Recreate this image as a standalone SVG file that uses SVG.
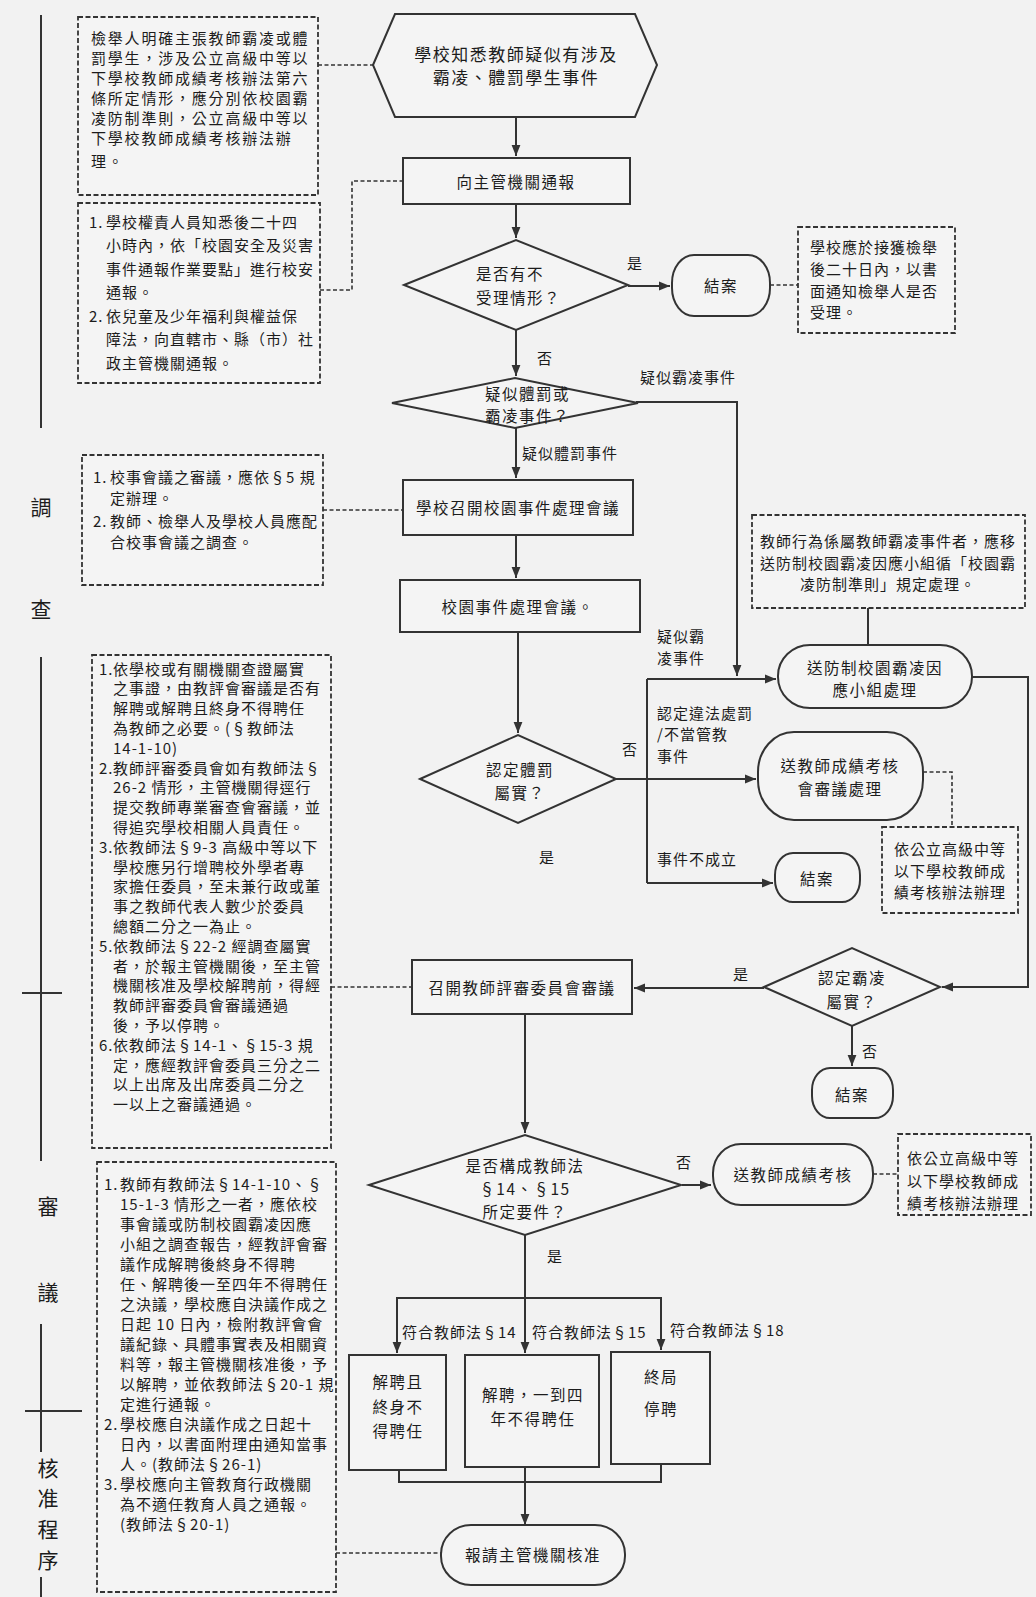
<svg xmlns="http://www.w3.org/2000/svg" width="1036" height="1597" viewBox="0 0 1036 1597">
<defs>
<marker id="ah" viewBox="0 0 10 10" refX="10" refY="5" markerWidth="11" markerHeight="11" markerUnits="userSpaceOnUse" orient="auto"><path d="M0,1 L10,5 L0,9 Z" fill="#333"/></marker>
</defs>
<style>
text{font-family:"Noto Sans CJK TC","Noto Sans CJK SC",sans-serif;fill:#1c1c1c;dominant-baseline:central;font-size:15px;letter-spacing:1px}
.m{text-anchor:middle}
.n{font-size:15.5px;letter-spacing:1.5px}
.big{font-size:17px;letter-spacing:1.5px}
.wa{letter-spacing:1.8px}
.side{font-size:21px;text-anchor:middle;letter-spacing:0}
.shape{fill:#f4f4f4;stroke:#333;stroke-width:2}
.note{fill:#f4f4f4;stroke:#333;stroke-width:1.8;stroke-dasharray:5 2.5}
.ln{fill:none;stroke:#333;stroke-width:2}
.dl{fill:none;stroke:#333;stroke-width:1.6;stroke-dasharray:4 2.5}
.ar{marker-end:url(#ah)}
</style>
<rect width="1036" height="1597" fill="#f2f2f2"/>

<g id="timeline">
<path class="ln" d="M41,15 V428 M41,657 V1161 M22,993 H62 M41,1324 V1452 M25,1411 H82 M41,1577 V1597"/>
<text class="side" x="41" y="506">調</text>
<text class="side" x="41" y="608">查</text>
<text class="side" x="48" y="1205">審</text>
<text class="side" x="48" y="1291">議</text>
<text class="side" x="48" y="1467">核</text>
<text class="side" x="48" y="1497">准</text>
<text class="side" x="48" y="1528">程</text>
<text class="side" x="48" y="1559">序</text>
</g>

<g id="connectors">
<path class="dl" d="M318,65 H373"/>
<path class="ln ar" d="M516,117 V156"/>
<path class="dl" d="M320,290 H352 V181 H403"/>
<path class="ln ar" d="M516,204 V238"/>
<path class="ln ar" d="M628,286 H670"/>
<path class="dl" d="M770,285 H798"/>
<path class="ln ar" d="M516,330 V376"/>
<path class="ln ar" d="M636,402 H737 V676"/>
<path class="ln ar" d="M516,428 V478"/>
<path class="dl" d="M323,510 H403"/>
<path class="ln ar" d="M516,535 V578"/>
<path class="ln ar" d="M518,632 V733"/>
<path class="ln ar" d="M616,779 H756"/>
<path class="ln" d="M647,679 V883"/>
<path class="ln ar" d="M647,679 H776"/>
<path class="ln ar" d="M647,883 H773"/>
<path class="ln" d="M868,608 V645"/>
<path class="ln ar" d="M972,677 H1028 V987 H942"/>
<path class="dl" d="M923,772 H952 V827"/>
<path class="ln ar" d="M764,988 H634"/>
<path class="ln ar" d="M852,1026 V1066"/>
<path class="dl" d="M331,987 H412"/>
<path class="ln ar" d="M525,1014 V1133"/>
<path class="ln ar" d="M682,1185 H711"/>
<path class="dl" d="M873,1174 H898"/>
<path class="ln ar" d="M525,1235 V1353"/>
<path class="ln ar" d="M525,1298 H397 V1353"/>
<path class="ln ar" d="M525,1298 H661 V1350"/>
<path class="ln" d="M399,1470 V1482 H661 V1464"/>
<path class="ln ar" d="M525,1467 V1525"/>
<path class="dl" d="M336,1553 H441"/>
</g>

<g id="labels">
<text x="627" y="262">是</text>
<text x="537" y="357">否</text>
<text x="640" y="376">疑似霸凌事件</text>
<text x="522" y="452">疑似體罰事件</text>
<text x="622" y="748">否</text>
<text x="657" y="635">疑似霸</text>
<text x="657" y="657">凌事件</text>
<text x="657" y="712">認定違法處罰</text>
<text x="657" y="733">/不當管教</text>
<text x="657" y="755">事件</text>
<text x="657" y="858">事件不成立</text>
<text x="539" y="856">是</text>
<text x="733" y="973">是</text>
<text x="862" y="1050">否</text>
<text x="676" y="1161">否</text>
<text x="547" y="1255">是</text>
<text x="402" y="1331">符合教師法§14</text>
<text x="532" y="1331">符合教師法§15</text>
<text x="670" y="1329">符合教師法§18</text>
</g>

<g id="noteA">
<rect class="note" x="78" y="17" width="240" height="178"/>
<text class="wa" x="91" y="37">檢舉人明確主張教師霸凌或體</text>
<text class="wa" x="91" y="57">罰學生，涉及公立高級中等以</text>
<text class="wa" x="91" y="77">下學校教師成績考核辦法第六</text>
<text class="wa" x="91" y="97">條所定情形，應分別依校園霸</text>
<text class="wa" x="91" y="117">凌防制準則，公立高級中等以</text>
<text class="wa" x="91" y="137">下學校教師成績考核辦法辦</text>
<text class="wa" x="91" y="160">理。</text>
</g>

<g id="noteB">
<rect class="note" x="78" y="203" width="242" height="180"/>
<text x="89" y="221">1.</text>
<text x="106" y="221">學校權責人員知悉後二十四</text>
<text x="106" y="244.5">小時內，依「校園安全及災害</text>
<text x="106" y="268">事件通報作業要點」進行校安</text>
<text x="106" y="291.5">通報。</text>
<text x="89" y="315">2.</text>
<text x="106" y="315">依兒童及少年福利與權益保</text>
<text x="106" y="338.5">障法，向直轄市、縣（市）社</text>
<text x="106" y="362">政主管機關通報。</text>
</g>

<g id="start">
<polygon class="shape" points="373,65 395,14 635,14 657,65 635,117 395,117"/>
<text class="big m" x="516" y="53">學校知悉教師疑似有涉及</text>
<text class="big m" x="516" y="76">霸凌、體罰學生事件</text>
</g>

<g id="report">
<rect class="shape" x="403" y="158" width="227" height="46"/>
<text class="n m" x="516" y="181">向主管機關通報</text>
</g>

<g id="d1">
<polygon class="shape" points="404,285 516,240 628,285 516,330"/>
<text class="n" x="476" y="273">是否有不</text>
<text class="n" x="476" y="297">受理情形？</text>
</g>

<g id="end1">
<rect class="shape" x="672" y="255" width="98" height="61" rx="22" ry="28"/>
<text class="n m" x="721" y="285">結案</text>
</g>

<g id="noteR1">
<rect class="note" x="798" y="227" width="157" height="106"/>
<text x="810" y="246">學校應於接獲檢舉</text>
<text x="810" y="268">後二十日內，以書</text>
<text x="810" y="290">面通知檢舉人是否</text>
<text x="810" y="311">受理。</text>
</g>

<g id="d2">
<polygon class="shape" points="392,403 515,378 638,403 515,428"/>
<text class="n" x="485" y="393">疑似體罰或</text>
<text class="n" x="485" y="415">霸凌事件？</text>
</g>

<g id="meeting1">
<rect class="shape" x="403" y="480" width="230" height="55"/>
<text class="n m" x="518" y="507">學校召開校園事件處理會議</text>
</g>

<g id="noteC">
<rect class="note" x="82" y="455" width="241" height="130"/>
<text x="93" y="476">1.</text>
<text x="110" y="476">校事會議之審議，應依§5 規</text>
<text x="110" y="497">定辦理。</text>
<text x="93" y="520">2.</text>
<text x="110" y="520">教師、檢舉人及學校人員應配</text>
<text x="110" y="541">合校事會議之調查。</text>
</g>

<g id="meeting2">
<rect class="shape" x="400" y="580" width="240" height="52"/>
<text class="n m" x="518" y="606">校園事件處理會議。</text>
</g>

<g id="d3">
<polygon class="shape" points="420,779 518,735 616,779 518,823"/>
<text class="n m" x="520" y="769">認定體罰</text>
<text class="n m" x="520" y="792">屬實？</text>
</g>

<g id="noteR2">
<rect class="note" x="752" y="515" width="273" height="93"/>
<text x="760" y="540">教師行為係屬教師霸凌事件者，應移</text>
<text x="760" y="562">送防制校園霸凌因應小組循「校園霸</text>
<text class="m" x="888" y="583">凌防制準則」規定處理。</text>
</g>

<g id="bullyGroup">
<rect class="shape" x="778" y="645" width="194" height="63" rx="32" ry="31"/>
<text class="n m" x="875" y="667">送防制校園霸凌因</text>
<text class="n m" x="875" y="689">應小組處理</text>
</g>

<g id="perfReview">
<rect class="shape" x="758" y="732" width="165" height="88" rx="36" ry="40"/>
<text class="n m" x="840" y="765">送教師成績考核</text>
<text class="n m" x="840" y="788">會審議處理</text>
</g>

<g id="noteR3">
<rect class="note" x="882" y="827" width="136" height="86"/>
<text x="894" y="848">依公立高級中等</text>
<text x="894" y="870">以下學校教師成</text>
<text x="894" y="891">績考核辦法辦理</text>
</g>

<g id="end2">
<rect class="shape" x="775" y="853" width="85" height="49" rx="18" ry="22"/>
<text class="n m" x="817" y="878">結案</text>
</g>

<g id="d4">
<polygon class="shape" points="764,987 852,948 940,987 852,1026"/>
<text class="n m" x="852" y="977">認定霸凌</text>
<text class="n m" x="852" y="1001">屬實？</text>
</g>

<g id="end3">
<rect class="shape" x="812" y="1068" width="81" height="50" rx="18" ry="22"/>
<text class="n m" x="852" y="1094">結案</text>
</g>

<g id="committee">
<rect class="shape" x="412" y="960" width="220" height="54"/>
<text class="n m" x="522" y="987">召開教師評審委員會審議</text>
</g>

<g id="noteD">
<rect class="note" x="92" y="655" width="239" height="493"/>
<text x="99" y="668">1.</text>
<text x="113" y="668">依學校或有關機關查證屬實</text>
<text x="113" y="687.8">之事證，由教評會審議是否有</text>
<text x="113" y="707.6">解聘或解聘且終身不得聘任</text>
<text x="113" y="727.4">為教師之必要。(§教師法</text>
<text x="113" y="747.2">14-1-10)</text>
<text x="99" y="767">2.</text>
<text x="113" y="767">教師評審委員會如有教師法§</text>
<text x="113" y="786.8">26-2 情形，主管機關得逕行</text>
<text x="113" y="806.6">提交教師專業審查會審議，並</text>
<text x="113" y="826.4">得追究學校相關人員責任。</text>
<text x="99" y="846.2">3.</text>
<text x="113" y="846.2">依教師法§9-3 高級中等以下</text>
<text x="113" y="866">學校應另行增聘校外學者專</text>
<text x="113" y="885.8">家擔任委員，至未兼行政或董</text>
<text x="113" y="905.6">事之教師代表人數少於委員</text>
<text x="113" y="925.4">總額二分之一為止。</text>
<text x="99" y="945.2">5.</text>
<text x="113" y="945.2">依教師法§22-2 經調查屬實</text>
<text x="113" y="965">者，於報主管機關後，至主管</text>
<text x="113" y="984.8">機關核准及學校解聘前，得經</text>
<text x="113" y="1004.6">教師評審委員會審議通過</text>
<text x="113" y="1024.4">後，予以停聘。</text>
<text x="99" y="1044.2">6.</text>
<text x="113" y="1044.2">依教師法§14-1、§15-3 規</text>
<text x="113" y="1064">定，應經教評會委員三分之二</text>
<text x="113" y="1083.8">以上出席及出席委員二分之</text>
<text x="113" y="1103.6">一以上之審議通過。</text>
</g>

<g id="d5">
<polygon class="shape" points="369,1185 525,1135 681,1185 525,1235"/>
<text class="n m" x="525" y="1165">是否構成教師法</text>
<text class="n m" x="525" y="1188">§14、§15</text>
<text class="n m" x="525" y="1211">所定要件？</text>
</g>

<g id="perfReview2">
<rect class="shape" x="713" y="1144" width="160" height="61" rx="28" ry="29"/>
<text class="n m" x="793" y="1174">送教師成績考核</text>
</g>

<g id="noteR4">
<rect class="note" x="898" y="1134" width="133" height="81"/>
<text x="907" y="1157">依公立高級中等</text>
<text x="907" y="1180">以下學校教師成</text>
<text x="907" y="1202">績考核辦法辦理</text>
</g>

<g id="out14">
<rect class="shape" x="349" y="1355" width="97" height="115"/>
<text class="n m" x="398" y="1381">解聘且</text>
<text class="n m" x="398" y="1406">終身不</text>
<text class="n m" x="398" y="1430">得聘任</text>
</g>

<g id="out15">
<rect class="shape" x="465" y="1355" width="134" height="112"/>
<text class="n m" x="533" y="1394">解聘，一到四</text>
<text class="n m" x="533" y="1418">年不得聘任</text>
</g>

<g id="out18">
<rect class="shape" x="611" y="1352" width="99" height="112"/>
<text class="n m" x="661" y="1376">終局</text>
<text class="n m" x="661" y="1408">停聘</text>
</g>

<g id="approve">
<rect class="shape" x="441" y="1525" width="184" height="60" rx="30" ry="29"/>
<text class="n m" x="533" y="1554">報請主管機關核准</text>
</g>

<g id="noteE">
<rect class="note" x="97" y="1162" width="239" height="430"/>
<text x="104" y="1183">1.</text>
<text x="120" y="1183">教師有教師法§14-1-10、§</text>
<text x="120" y="1203">15-1-3 情形之一者，應依校</text>
<text x="120" y="1223">事會議或防制校園霸凌因應</text>
<text x="120" y="1243">小組之調查報告，經教評會審</text>
<text x="120" y="1263">議作成解聘後終身不得聘</text>
<text x="120" y="1283">任、解聘後一至四年不得聘任</text>
<text x="120" y="1303">之決議，學校應自決議作成之</text>
<text x="120" y="1323">日起 10 日內，檢附教評會會</text>
<text x="120" y="1343">議紀錄、具體事實表及相關資</text>
<text x="120" y="1363">料等，報主管機關核准後，予</text>
<text x="120" y="1383">以解聘，並依教師法§20-1 規</text>
<text x="120" y="1403">定進行通報。</text>
<text x="104" y="1423">2.</text>
<text x="120" y="1423">學校應自決議作成之日起十</text>
<text x="120" y="1443">日內，以書面附理由通知當事</text>
<text x="120" y="1463">人。(教師法§26-1)</text>
<text x="104" y="1483">3.</text>
<text x="120" y="1483">學校應向主管教育行政機關</text>
<text x="120" y="1503">為不適任教育人員之通報。</text>
<text x="120" y="1523">(教師法§20-1)</text>
</g>
</svg>
